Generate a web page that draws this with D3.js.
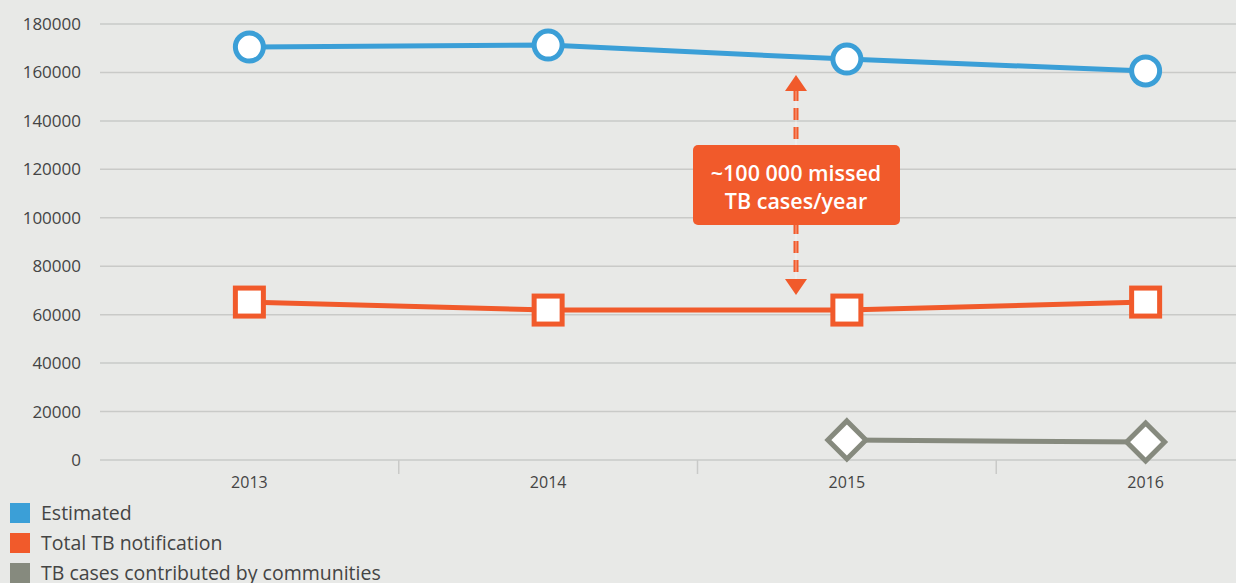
<!DOCTYPE html>
<html>
<head>
<meta charset="utf-8">
<title>TB cases</title>
<script src="https://d3js.org/d3.v7.min.js"></script>
<style>
  body { margin: 0; background: #e8e9e7; }
  svg { display: block; font-family: "Open Sans", sans-serif; }
</style>
</head>
<body>
<script>
// data
var years = ["2013", "2014", "2015", "2016"];
var estimated = [170500, 171300, 165500, 160600];
var notified = [65200, 61900, 61900, 65200];
var community = [null, null, 8300, 7400];
var yTicks = [0, 20000, 40000, 60000, 80000, 100000, 120000, 140000, 160000, 180000];
var legendLabels = ["Estimated", "Total TB notification", "TB cases contributed by communities"];
var noteLines = ["~100 000 missed", "TB cases/year"];

var width = 1236, height = 583;
var blue = "#3b9fd7", orange = "#f15a2b", grey = "#868a7e";

var svg = d3.select("body").append("svg").attr("width", width).attr("height", height);

var x = d3.scaleBand().domain(years).range([100, 1295]);
var y = d3.scaleLinear().domain([0, 180000]).range([460, 24]);
var cx = function(i) { return x(years[i]) + x.bandwidth() / 2; };

// grid
svg.append("g").selectAll("line").data(yTicks).enter().append("line")
  .attr("x1", 100).attr("x2", width)
  .attr("y1", function(d) { return y(d); }).attr("y2", function(d) { return y(d); })
  .attr("stroke", "#c9cac8").attr("stroke-width", 1.5);

svg.append("g").selectAll("text").data(yTicks).enter().append("text")
  .attr("x", 81).attr("y", function(d) { return y(d) + 6; })
  .attr("text-anchor", "end").attr("font-size", 17).attr("fill", "#444")
  .text(function(d) { return d; });

// x ticks between categories
svg.append("g").selectAll("line").data(years.slice(1)).enter().append("line")
  .attr("x1", function(d) { return x(d); }).attr("x2", function(d) { return x(d); })
  .attr("y1", 460).attr("y2", 474)
  .attr("stroke", "#c9cac8").attr("stroke-width", 1.5);

svg.append("g").selectAll("text").data(years).enter().append("text")
  .attr("x", function(d, i) { return cx(i); }).attr("y", 488)
  .attr("text-anchor", "middle").attr("font-size", 16).attr("fill", "#444")
  .text(function(d) { return d; });

// lines
function drawLine(vals, color) {
  var line = d3.line()
    .defined(function(d) { return d != null; })
    .x(function(d, i) { return cx(i); })
    .y(function(d) { return y(d); });
  svg.append("path").datum(vals)
    .attr("d", line).attr("fill", "none")
    .attr("stroke", color).attr("stroke-width", 5);
}
drawLine(estimated, blue);
drawLine(notified, orange);
drawLine(community, grey);

// markers
svg.append("g").selectAll("circle").data(estimated).enter().append("circle")
  .attr("cx", function(d, i) { return cx(i); }).attr("cy", function(d) { return y(d); })
  .attr("r", 14).attr("fill", "#fff").attr("stroke", blue).attr("stroke-width", 5);

svg.append("g").selectAll("rect").data(notified).enter().append("rect")
  .attr("x", function(d, i) { return cx(i) - 14; }).attr("y", function(d) { return y(d) - 14; })
  .attr("width", 28).attr("height", 28)
  .attr("fill", "#fff").attr("stroke", orange).attr("stroke-width", 5);

svg.append("g").selectAll("path")
  .data(community.map(function(d, i) { return { v: d, i: i }; }).filter(function(d) { return d.v != null; }))
  .enter().append("path")
  .attr("transform", function(d) { return "translate(" + cx(d.i) + "," + y(d.v) + ")"; })
  .attr("d", "M0,-19L19,0L0,19L-19,0Z")
  .attr("fill", "#fff").attr("stroke", grey).attr("stroke-width", 5);

// annotation arrow
var ax = 796;
var arrowTop = y(estimated[2]) + 16, arrowBottom = y(notified[2]) - 15;
svg.append("line").attr("x1", ax).attr("x2", ax).attr("y1", arrowTop + 14).attr("y2", arrowBottom - 14)
  .attr("stroke", orange).attr("stroke-width", 5).attr("stroke-dasharray", "12,7");
svg.append("line").attr("x1", ax).attr("x2", ax).attr("y1", arrowTop + 14).attr("y2", arrowBottom - 14)
  .attr("stroke", "#fff").attr("stroke-opacity", 0.5).attr("stroke-width", 1);
svg.append("path").attr("d", "M" + ax + "," + arrowTop + "l11,16l-22,0Z").attr("fill", orange);
svg.append("path").attr("d", "M" + ax + "," + arrowBottom + "l11,-16l-22,0Z").attr("fill", orange);

svg.append("rect").attr("x", 693).attr("y", 145).attr("width", 207).attr("height", 80)
  .attr("rx", 5).attr("fill", orange);
svg.append("g").selectAll("text").data(noteLines).enter().append("text")
  .attr("x", 796).attr("y", function(d, i) { return 181 + i * 28; })
  .attr("text-anchor", "middle").attr("font-size", 21.5).attr("font-weight", 600)
  .attr("fill", "#fff").text(function(d) { return d; });

// legend
var lg = svg.append("g").selectAll("g").data(legendLabels).enter().append("g")
  .attr("transform", function(d, i) { return "translate(10," + (503 + i * 30) + ")"; });
lg.append("rect").attr("width", 20).attr("height", 20)
  .attr("fill", function(d, i) { return [blue, orange, grey][i]; });
lg.append("text").attr("x", 31).attr("y", 17).attr("font-size", 19.5).attr("fill", "#444")
  .text(function(d) { return d; });
</script>
</body>
</html>
